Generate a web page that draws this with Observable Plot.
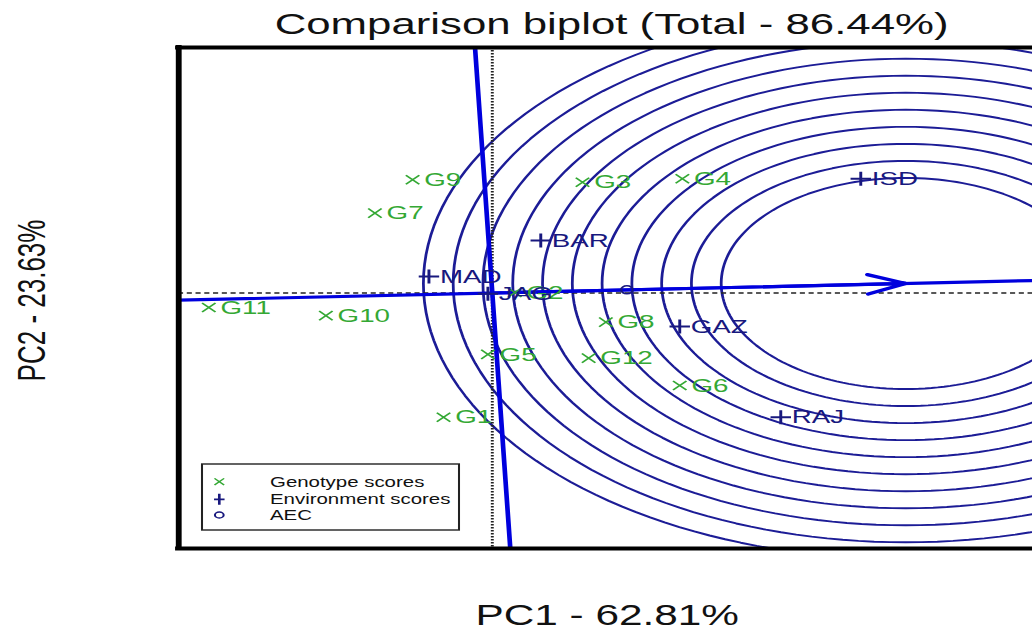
<!DOCTYPE html>
<html><head><meta charset="utf-8">
<script src="https://cdn.jsdelivr.net/npm/d3@7"></script>
<script src="https://cdn.jsdelivr.net/npm/@observablehq/plot@0.6"></script>
<style>html,body{margin:0;padding:0;background:#fff;} #chart{width:1032px;height:630px;overflow:hidden;}</style>
</head><body><div id="chart"></div>
<script>
// ---- data (biplot coordinates) ----
const genotypes = ["G1","G2","G3","G4","G5","G6","G7","G8","G9","G10","G11","G12"];
const genoPC1 = [-0.167, 0.077, 0.309, 0.651, -0.015, 0.642, -0.402, 0.389, -0.273, -0.570, -0.971, 0.330];
const genoPC2 = [-0.744, 0.003, 0.663, 0.684, -0.368, -0.554, 0.478, -0.175, 0.678, -0.135, -0.087, -0.390];
const environments = ["ISD","BAR","MAD","JAG","GAZ","RAJ"];
const envPC1 = [1.262, 0.166, -0.217, -0.015, 0.642, 0.988];
const envPC2 = [0.684, 0.314, 0.099, -0.005, -0.201, -0.744];
const aecPoint = [0.461, 0.019];
const idealPoint = [1.416, 0.057];
const circleRadii = [0.632, 0.734, 0.836, 0.938, 1.040, 1.142, 1.244, 1.346, 1.448, 1.550, 1.652];
const xDomain = [-1.074, 1.851];
const yDomain = [-1.53, 1.47];
const titleText = "Comparison biplot (Total - 86.44%)";
const xLabel = "PC1 - 62.81%";
const yLabel = "PC2 - 23.63%";
const legendItems = ["Genotype scores", "Environment scores", "AEC"];

// ---- styling ----
const FONT = "Liberation Sans, Arial, Helvetica, sans-serif";
const GREEN = "#34a834", NAVY = "#18187e", BLUE = "#0000dd", RING = "#1c1c96";
const W = 1032, H = 630, W0 = 707, S = W / W0; // picture is stretched horizontally

const genos = genotypes.map((name, i) => ({name, x: genoPC1[i], y: genoPC2[i]}));
const envs = environments.map((name, i) => ({name, x: envPC1[i], y: envPC2[i]}));
const aec = [{name: "AEC", x: aecPoint[0], y: aecPoint[1]}];
const k = idealPoint[1] / idealPoint[0];
const aecAxis = xDomain.map(x => ({x, y: x * k}));
const aecOrd = yDomain.map(y => ({x: -k * y, y}));
const circles = circleRadii.flatMap(r => d3.range(0, 361, 2).map(a => ({
  r, x: idealPoint[0] + r * Math.cos(a * Math.PI / 180), y: idealPoint[1] + r * Math.sin(a * Math.PI / 180)
})));

const timesSym = {draw(c, s) {const r = Math.sqrt(s / Math.PI); c.moveTo(-r, -r); c.lineTo(r, r); c.moveTo(-r, r); c.lineTo(r, -r);}};
const plusSym = {draw(c, s) {const r = Math.sqrt(s / Math.PI); c.moveTo(-r, 0); c.lineTo(r, 0); c.moveTo(0, -r); c.lineTo(0, r);}};
const ringSym = {draw(c, s) {const r = Math.sqrt(s / Math.PI); c.moveTo(r, 0); c.arc(0, 0, r, 0, 2 * Math.PI);}};

const svg = Plot.plot({
  width: W0, height: H,
  marginLeft: 178 / S, marginRight: 0, marginTop: 47, marginBottom: H - 548,
  style: {fontFamily: FONT, background: "#fff"},
  x: {domain: xDomain, axis: null},
  y: {domain: yDomain, axis: null},
  marks: [
    Plot.line(circles, {x: "x", y: "y", z: "r", stroke: RING, strokeWidth: 1.9, clip: true}),
    Plot.ruleX([0], {stroke: "#222", strokeWidth: 2, strokeDasharray: "1.5,1.5"}),
    Plot.ruleY([0], {stroke: "#222", strokeWidth: 1.5, strokeDasharray: "3.5,2.5"}),
    Plot.line(aecAxis, {x: "x", y: "y", stroke: BLUE, strokeWidth: 3.2, clip: true}),
    Plot.line(aecOrd, {x: "x", y: "y", stroke: BLUE, strokeWidth: 3.2, clip: true}),
    Plot.arrow([{x1: 0, y1: 0, x2: idealPoint[0], y2: idealPoint[1]}],
      {x1: "x1", y1: "y1", x2: "x2", y2: "y2", stroke: BLUE, strokeWidth: 3.2, headLength: 13, headAngle: 41}),
    Plot.dot(genos, {x: "x", y: "y", symbol: timesSym, r: 4.6, stroke: GREEN, strokeWidth: 1.4, fill: "none"}),
    Plot.text(genos, {x: "x", y: "y", text: "name", textAnchor: "start", lineAnchor: "middle", dx: 8, fill: GREEN, fontSize: 19}),
    Plot.dot(envs, {x: "x", y: "y", symbol: plusSym, r: 7, stroke: NAVY, strokeWidth: 2, fill: "none"}),
    Plot.text(envs, {x: "x", y: "y", text: "name", textAnchor: "start", lineAnchor: "middle", dx: 7.5, fill: NAVY, fontSize: 19}),
    Plot.dot(aec, {x: "x", y: "y", symbol: ringSym, r: 4, stroke: NAVY, strokeWidth: 1.5, fill: "none"}),
    Plot.ruleX([xDomain[0]], {stroke: "#000", strokeWidth: 4, strokeLinecap: "square"}),
    Plot.ruleY(yDomain, {stroke: "#000", strokeWidth: 4, strokeLinecap: "square"}),
    Plot.text([titleText], {frameAnchor: "top", dx: 4, dy: -14, lineAnchor: "bottom", fontSize: 30, fill: "#111"}),
    Plot.text([xLabel], {frameAnchor: "bottom", dx: 1, dy: 76, lineAnchor: "bottom", fontSize: 29, fill: "#111"}),
    Plot.text([yLabel], {frameAnchor: "left", rotate: -90, textAnchor: "middle", lineAnchor: "bottom", dx: 30 - 178 / S, dy: 2.5, fontSize: 26, fill: "#111"})
  ]
});

// legend (drawn in the same stretched coordinate space)
const g = d3.select(svg).append("g").attr("font-family", FONT).attr("text-anchor", "start");
const lx0 = 202 / S, lx1 = 459 / S, ly0 = 464, ly1 = 530;
g.append("rect").attr("x", lx0).attr("y", ly0).attr("width", lx1 - lx0).attr("height", ly1 - ly0)
  .attr("fill", "#fff").attr("stroke", "#222").attr("stroke-width", 1.4);
const rowsY = [481.7, 499.3, 515];
const sx = 219.3 / S;
g.append("path").attr("d", `M${sx-3.3},${rowsY[0]-3.3}L${sx+3.3},${rowsY[0]+3.3}M${sx-3.3},${rowsY[0]+3.3}L${sx+3.3},${rowsY[0]-3.3}`)
  .attr("stroke", GREEN).attr("stroke-width", 1.2).attr("fill", "none");
g.append("path").attr("d", `M${sx-3.6},${rowsY[1]}L${sx+3.6},${rowsY[1]}M${sx},${rowsY[1]-5.5}L${sx},${rowsY[1]+5.5}`)
  .attr("stroke", NAVY).attr("stroke-width", 1.8).attr("fill", "none");
g.append("circle").attr("cx", sx).attr("cy", rowsY[2]).attr("r", 3)
  .attr("stroke", NAVY).attr("stroke-width", 1.4).attr("fill", "none");
legendItems.forEach((t, i) => {
  g.append("text").attr("x", 270 / S).attr("y", rowsY[i] + 5.2).attr("font-size", 14)
    .attr("text-anchor", "start").attr("fill", "#111").text(t);
});

svg.setAttribute("width", W);
svg.setAttribute("height", H);
svg.setAttribute("viewBox", `0 0 ${W0} ${H}`);
svg.setAttribute("preserveAspectRatio", "none");
svg.style.width = W + "px";
svg.style.height = H + "px";
svg.style.maxWidth = "none";
document.getElementById("chart").appendChild(svg);
</script>
</body></html>
